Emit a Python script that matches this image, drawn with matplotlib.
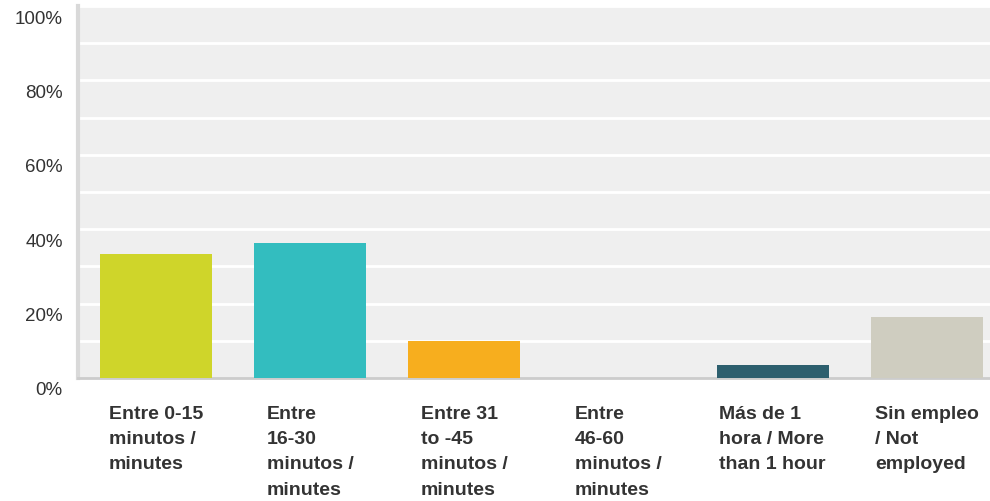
import numpy as np
import matplotlib.pyplot as plt
import matplotlib.transforms as mtransforms

# categories and values (percent of respondents)
categories = [
    "Entre 0-15\nminutos /\nminutes",
    "Entre\n16-30\nminutos /\nminutes",
    "Entre 31\nto -45\nminutos /\nminutes",
    "Entre\n46-60\nminutos /\nminutes",
    "Más de 1\nhora / More\nthan 1 hour",
    "Sin empleo\n/ Not\nemployed",
]
values = [33.3, 36.3, 9.9, 0.0, 3.5, 16.4]
colors = ["#cfd52a", "#33bdbf", "#f7ae1e", "#8e8e8e", "#2d5f6e", "#cfcdc0"]
yticks = [0, 20, 40, 60, 80, 100]

plt.rcParams['font.family'] = ['Liberation Sans', 'DejaVu Sans']

fig = plt.figure(figsize=(9.9, 5.02), dpi=100)
ax = fig.add_axes([78 / 990, (502 - 379) / 502, 912 / 990, 372 / 502])
ax.set_facecolor('#efefef')

x = np.arange(len(values))
ax.bar(x, values, width=0.727, color=colors, zorder=3)

ax.set_xlim(-0.506, 5.41)
ax.set_ylim(0, 100)

# white gridlines every 10%
for g in range(10, 101, 10):
    ax.axhline(g, color='white', lw=2, zorder=1)

ax.set_yticks(yticks)
ax.set_yticklabels([f"{t}%" for t in yticks], fontsize=13.5, color='#333333')
ax.tick_params(axis='y', length=0, pad=11)
# labels sit a bit below their gridline in the original
offset = mtransforms.ScaledTranslation(0, -10 / 100, fig.dpi_scale_trans)
for lbl in ax.get_yticklabels():
    lbl.set_transform(lbl.get_transform() + offset)

ax.set_xticks([])
for i, cat in enumerate(categories):
    ax.text(i, -7.2, cat, ha='center', va='top', multialignment='left',
            fontsize=14, fontweight='bold', color='#333333',
            linespacing=1.64)

for s in ['top', 'right']:
    ax.spines[s].set_visible(False)
ax.spines['left'].set_color('#d9d9d9')
ax.spines['left'].set_linewidth(3)
ax.spines['bottom'].set_color('#cccccc')
ax.spines['bottom'].set_linewidth(2)

fig.savefig('out.png', dpi=100)
